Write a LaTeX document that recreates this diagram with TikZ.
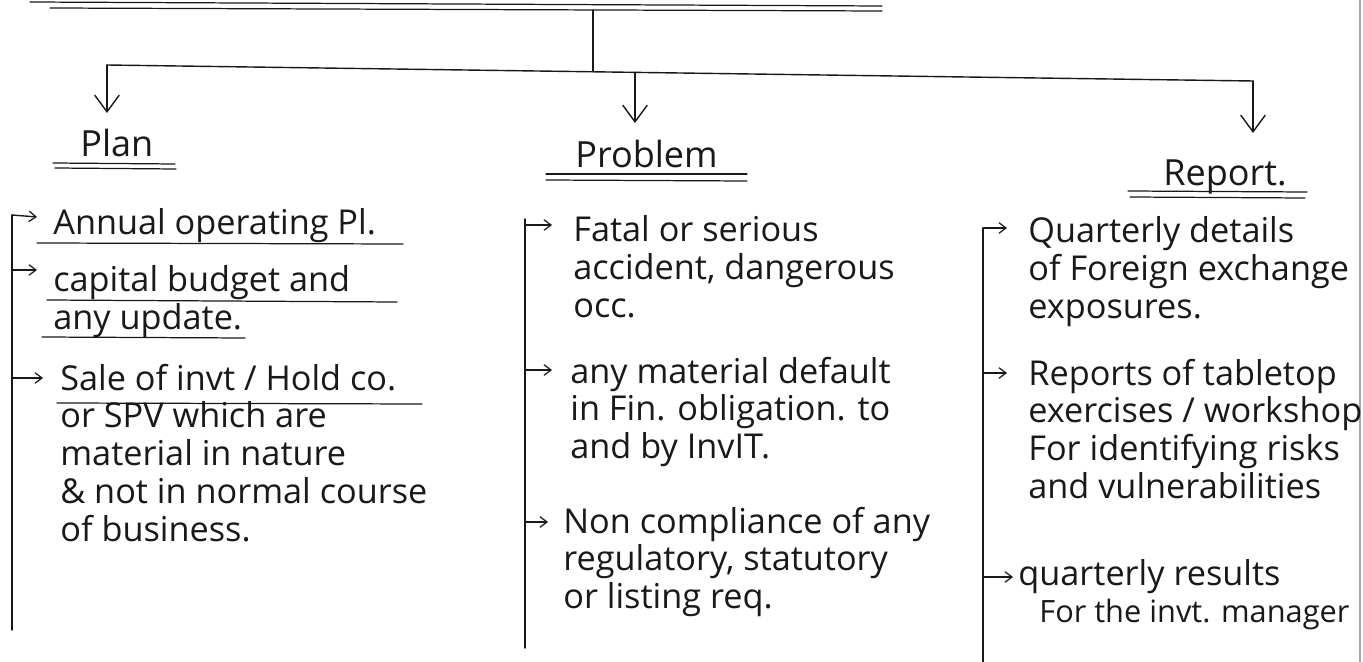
\documentclass[tikz,border=0pt]{standalone}
\usepackage{fontspec}
\setmainfont{Open Sans}
\usetikzlibrary{arrows.meta}
\definecolor{ink}{gray}{0.1}
% lines stacked so that the node's base is the first line's baseline
\newcommand\stackedlines[1]{\begin{tabular}[t]{@{}l@{}}#1\end{tabular}}
\tikzset{
  ink line/.style={draw=ink, line width=0.8pt, line cap=round},
  down arrow/.style={ink line, -{Straight Barb[length=9.5pt,width=14pt,line width=0.8pt]}},
  item arrow/.style={ink line, -{Straight Barb[length=4pt,width=6pt,line width=0.7pt]}},
  heading/.style={anchor=base west, inner sep=0pt, text=ink, font=\fontsize{20.5}{24}\selectfont},
  entry/.style={anchor=base west, inner sep=0pt, text=ink, font=\fontsize{19.5}{21.6}\selectfont},
  rule/.style={draw=ink, line width=0.7pt, line cap=round},
}
\begin{document}
\begin{tikzpicture}[x=0.02cm, y=-0.02cm]
\useasboundingbox (0,0) rectangle (1363,662);
\fill[white] (0,0) rectangle (1363,662);

% sheet edge on the right
\draw[gray!70, line width=0.6pt] (1360,0) -- (1360,662);

% title rules at the top
\draw[rule] (30,2) -- (882,6);
\draw[rule] (50,8) -- (882,11);

% trunk and branch bar
\coordinate (trunkTop) at (593,10);
\coordinate (barL) at (107,65);
\coordinate (barR) at (1253,81);
\coordinate (barM) at (593,71.8);
\coordinate (barC) at (635,72.4);
\draw[ink line] (trunkTop) -- (barM);
\draw[ink line] (barL) -- (barR);

\coordinate (tipPlan) at (107,113);
\coordinate (tipProblem) at (635,123);
\coordinate (tipReport) at (1253,133);
\draw[down arrow] (barL) -- (tipPlan);
\draw[down arrow] (barC) -- (tipProblem);
\draw[down arrow] (barR) -- (tipReport);

% ---------- headings ----------
\node[heading] (plan) at (80,157) {Plan};
\draw[rule] (53,163) -- (175,164);
\draw[rule] (55,168) -- (176,169);

\node[heading] (problem) at (575,168) {Problem};
\draw[rule] (546,174) -- (747,174);
\draw[rule] (546,180) -- (747,181);

\node[heading] (report) at (1163,186) {Report.};
\draw[rule] (1128,191) -- (1307,192);
\draw[rule] (1130,197) -- (1305,198);

% ---------- Plan column ----------
\coordinate (planTop) at (12,215);
\coordinate (planEnd) at (12,630);
\draw[ink line] (planTop) -- (planEnd);

\node[entry] (p1) at (53,235) {Annual operating Pl.};
\node[entry] (p2) at (53,292) {\stackedlines{capital budget and\\any update.}};
\node[entry] (p3) at (60,390) {\stackedlines{Sale of invt / Hold co.\\or SPV which are\\material in nature\\\& not in normal course\\of business.}};
\draw[rule] (37,243) -- (403,244);
\draw[rule] (47,300) -- (397,302);
\draw[rule] (42,337) -- (245,338);
\draw[rule] (57,403) -- (422,404);

\coordinate (pa1) at (37,217);
\coordinate (pa2) at (37,270);
\coordinate (pa3) at (43,378);
\draw[item arrow] (planTop) -- (pa1);
\draw[item arrow] (planTop |- pa2) -- (pa2);
\draw[item arrow] (planTop |- pa3) -- (pa3);

% ---------- Problem column ----------
\coordinate (probTop) at (525,219);
\coordinate (probEnd) at (525,648);
\draw[ink line] (probTop) -- (probEnd);

\node[entry] (q1) at (573,242) {\stackedlines{Fatal or serious\\accident, dangerous\\occ.}};
\node[entry] (q2) at (570,383) {\stackedlines{any material default\\in Fin. obligation. to\\and by InvIT.}};
\node[entry] (q3) at (563,533) {\stackedlines{Non compliance of any\\regulatory, statutory\\or listing req.}};

\coordinate (qa1) at (552,225);
\coordinate (qa2) at (552,370);
\coordinate (qa3) at (548,522);
\draw[item arrow] (probTop |- qa1) -- (qa1);
\draw[item arrow] (probTop |- qa2) -- (qa2);
\draw[item arrow] (probTop |- qa3) -- (qa3);

% ---------- Report column ----------
\coordinate (repTop) at (983,228);
\coordinate (repEnd) at (983,662);
\draw[ink line] (repTop) -- (repEnd);

\node[entry] (r1) at (1028,243) {\stackedlines{Quarterly details\\of Foreign exchange\\exposures.}};
\node[entry] (r2) at (1028,385) {\stackedlines{Reports of tabletop\\exercises / workshop\\For identifying risks\\and vulnerabilities}};
\node[entry] (r3) at (1018,585) {\stackedlines{quarterly results\\\hspace{12pt}{\fontsize{17.5}{21.6}\selectfont For the invt. manager}}};

\coordinate (ra1) at (1007,228);
\coordinate (ra2) at (1007,373);
\coordinate (ra3) at (1013,577);
\draw[item arrow] (repTop) -- (ra1);
\draw[item arrow] (repTop |- ra2) -- (ra2);
\draw[item arrow] (repTop |- ra3) -- (ra3);
\end{tikzpicture}
\end{document}
